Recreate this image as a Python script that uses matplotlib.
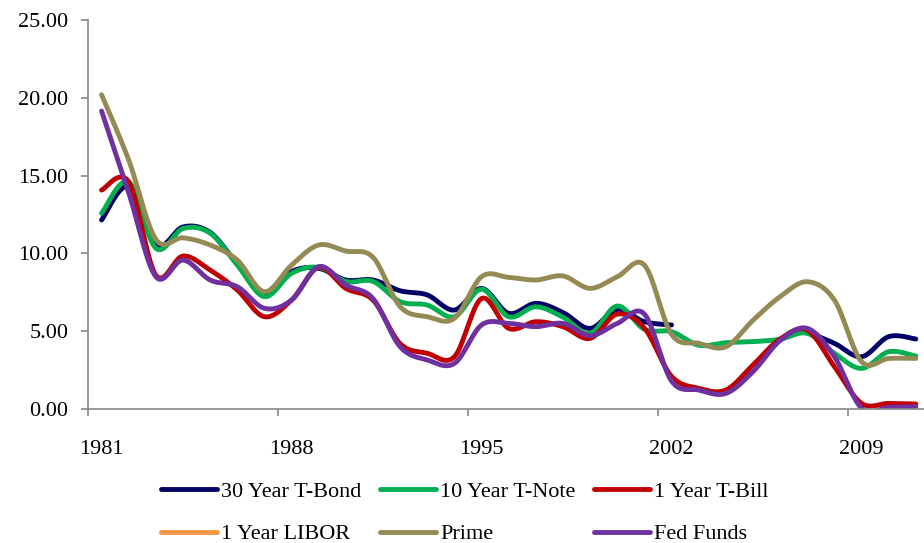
import numpy as np
import matplotlib
matplotlib.use("Agg")
import matplotlib.pyplot as plt
from matplotlib.lines import Line2D

plt.rcParams["font.family"] = ["Liberation Serif", "DejaVu Serif"]

nan = np.nan
years = list(range(1981, 2012))

bond30 = [12.15, 14.3, 10.5, 11.7, 11.35, 9.3, 7.3, 8.83, 9.04, 8.29, 8.29, 7.6, 7.33, 6.36, 7.75, 6.15,
          6.79, 6.2, 5.18, 6.4, 5.61, 5.4, nan, nan, nan, nan, 4.95, 4.22, 3.36, 4.65, 4.5]
note10 = [12.58, 14.6, 10.33, 11.6, 11.3, 9.25, 7.22, 8.72, 9.1, 8.2, 8.2, 6.9, 6.68, 5.93, 7.7, 5.93,
          6.57, 5.9, 4.86, 6.62, 5.12, 4.97, 4.1, 4.26, 4.33, 4.48, 4.86, 3.58, 2.61, 3.68, 3.4]
bill1 = [14.07, 14.6, 8.6, 9.83, 8.93, 7.65, 5.93, 7.0, 9.1, 7.75, 7.0, 4.2, 3.58, 3.36, 7.1, 5.18,
         5.61, 5.29, 4.54, 6.1, 5.2, 2.1, 1.33, 1.22, 2.83, 4.5, 5.07, 2.72, 0.36, 0.36, 0.32]
libor1 = [nan] * len(years)
prime = [20.2, 16.0, 10.9, 11.0, 10.54, 9.57, 7.54, 9.25, 10.54, 10.15, 9.75, 6.58, 5.93, 5.83, 8.5, 8.46,
         8.29, 8.55, 7.75, 8.5, 9.25, 4.8, 4.22, 4.0, 5.7, 7.22, 8.18, 7.0, 3.04, 3.25, 3.25]
fedfunds = [19.15, 13.9, 8.5, 9.57, 8.29, 7.86, 6.47, 7.0, 9.15, 7.97, 7.1, 4.0, 3.15, 2.93, 5.4, 5.5,
            5.29, 5.5, 4.71, 5.5, 6.1, 1.8, 1.22, 1.0, 2.4, 4.4, 5.18, 3.36, 0.05, 0.1, 0.15]

series = [
    ("30 Year T-Bond", bond30, "#000066"),
    ("10 Year T-Note", note10, "#00B050"),
    ("1 Year T-Bill", bill1, "#C00000"),
    ("1 Year LIBOR", libor1, "#F79646"),
    ("Prime", prime, "#948A54"),
    ("Fed Funds", fedfunds, "#7030A0"),
]


def smooth(xs, ys, n=20):
    # bezier smoothing like excel "smoothed line"
    xs = np.asarray(xs, float)
    ys = np.asarray(ys, float)
    if len(xs) < 2:
        return xs, ys
    px = np.concatenate([[xs[0]], xs, [xs[-1]]])
    py = np.concatenate([[ys[0]], ys, [ys[-1]]])
    t = np.linspace(0, 1, n)
    outx, outy = [], []
    for i in range(1, len(px) - 2):
        x0, x3 = px[i], px[i + 1]
        y0, y3 = py[i], py[i + 1]
        x1 = x0 + (px[i + 1] - px[i - 1]) / 6
        y1 = y0 + (py[i + 1] - py[i - 1]) / 6
        x2 = x3 - (px[i + 2] - px[i]) / 6
        y2 = y3 - (py[i + 2] - py[i]) / 6
        bx = (1 - t) ** 3 * x0 + 3 * (1 - t) ** 2 * t * x1 + 3 * (1 - t) * t ** 2 * x2 + t ** 3 * x3
        by = (1 - t) ** 3 * y0 + 3 * (1 - t) ** 2 * t * y1 + 3 * (1 - t) * t ** 2 * y2 + t ** 3 * y3
        outx.append(bx)
        outy.append(by)
    return np.concatenate(outx), np.concatenate(outy)


fig = plt.figure(figsize=(9.24, 5.43), dpi=100)
ax = fig.add_axes([88 / 924, 134 / 543, 841.4 / 924, 389 / 543])

xidx = np.arange(len(years))
handles = []
for name, vals, col in series:
    v = np.asarray(vals, float)
    ok = ~np.isnan(v)
    # split in segments where data exists
    start = None
    for i in range(len(v) + 1):
        if i < len(v) and ok[i]:
            if start is None:
                start = i
        else:
            if start is not None:
                sx, sy = smooth(xidx[start:i], v[start:i])
                ax.plot(sx, sy, color=col, lw=3.5, solid_capstyle="round")
                start = None
    handles.append(Line2D([], [], color=col, lw=3.5, solid_capstyle="round", label=name))

ax.set_xlim(-0.5, len(years) - 0.5)
ax.set_ylim(0, 25)
ax.set_yticks(np.arange(0, 26, 5))
ax.set_yticklabels(["%.2f" % v for v in np.arange(0, 26, 5)])

# ticks between categories, labels on every 7th year
ax.set_xticks(np.arange(-0.5, len(years), 7))
ax.set_xticklabels([])
ax.set_xticks(np.arange(0, len(years), 7), minor=True)
ax.set_xticklabels([str(years[i]) for i in range(0, len(years), 7)], minor=True)
ax.tick_params(axis="x", which="major", length=5, color="#868686", width=1.2)
ax.tick_params(axis="x", which="minor", length=0, pad=22, labelsize=16)
ax.tick_params(axis="y", length=5, color="#868686", width=1.2, pad=9, labelsize=16)

for s in ["top", "right"]:
    ax.spines[s].set_visible(False)
for s in ["left", "bottom"]:
    ax.spines[s].set_color("#868686")
    ax.spines[s].set_linewidth(1.2)

order = [0, 3, 1, 4, 2, 5]
fig.legend([handles[i] for i in order], [handles[i].get_label() for i in order],
           ncol=3, loc="upper left", bbox_to_anchor=(161 / 924, 1 - 481 / 543),
           frameon=False, fontsize=16, handlelength=2.5, handletextpad=0.2,
           columnspacing=0.85, labelspacing=1.0, borderpad=0, borderaxespad=0)

fig.savefig("out.png", dpi=100)
